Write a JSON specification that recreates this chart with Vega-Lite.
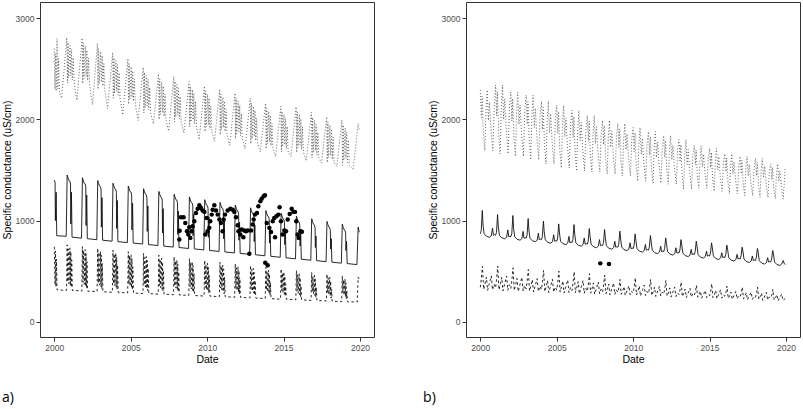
{
"$schema":"https://vega.github.io/schema/vega-lite/v6.json",
"background":"white",
"padding":{"left":1,"top":1,"right":2,"bottom":2},
"spacing":47,
"config":{
"view":{"stroke":"#333333","strokeWidth":1},
"axis":{"grid":false,"domain":false,"tickColor":"#333333","tickSize":4,"labelPadding":2,"labelColor":"#4d4d4d","labelFont":"Liberation Sans","labelFontSize":8.5,"titleFont":"Liberation Sans","titleFontSize":10.5,"titleFontWeight":"normal","titleColor":"black","titlePadding":3},
"title":{"font":"Open Sans","fontSize":14,"fontWeight":"normal","color":"black","orient":"bottom","anchor":"start","frame":"bounds","offset":26}
},
"datasets":{
"as":[{"t":2000.00,"v":1400},{"t":2000.05,"v":1380},{"t":2000.07,"v":1000},{"t":2000.12,"v":1280},{"t":2000.16,"v":850},{"t":2000.78,"v":845},{"t":2000.84,"v":1450},{"t":2000.90,"v":1420},{"t":2000.96,"v":1395},
{"t":2001.02,"v":1390},{"t":2001.06,"v":1360},{"t":2001.08,"v":966},{"t":2001.12,"v":1280},{"t":2001.16,"v":836},{"t":2001.78,"v":826},{"t":2001.84,"v":1423},{"t":2001.90,"v":1393},{"t":2001.96,"v":1368},
{"t":2002.02,"v":1363},{"t":2002.06,"v":1333},{"t":2002.08,"v":951},{"t":2002.12,"v":1253},{"t":2002.16,"v":821},{"t":2002.78,"v":811},{"t":2002.84,"v":1396},{"t":2002.90,"v":1366},{"t":2002.96,"v":1341},
{"t":2003.02,"v":1336},{"t":2003.06,"v":1306},{"t":2003.08,"v":936},{"t":2003.12,"v":1226},{"t":2003.16,"v":806},{"t":2003.78,"v":796},{"t":2003.84,"v":1369},{"t":2003.90,"v":1339},{"t":2003.96,"v":1314},
{"t":2004.02,"v":1309},{"t":2004.06,"v":1279},{"t":2004.08,"v":922},{"t":2004.12,"v":1199},{"t":2004.16,"v":792},{"t":2004.78,"v":782},{"t":2004.84,"v":1342},{"t":2004.90,"v":1312},{"t":2004.96,"v":1287},
{"t":2005.02,"v":1282},{"t":2005.06,"v":1252},{"t":2005.08,"v":908},{"t":2005.12,"v":1172},{"t":2005.16,"v":778},{"t":2005.78,"v":768},{"t":2005.84,"v":1315},{"t":2005.90,"v":1285},{"t":2005.96,"v":1260},
{"t":2006.02,"v":1255},{"t":2006.06,"v":1225},{"t":2006.08,"v":893},{"t":2006.12,"v":1145},{"t":2006.16,"v":763},{"t":2006.78,"v":753},{"t":2006.84,"v":1288},{"t":2006.90,"v":1258},{"t":2006.96,"v":1233},
{"t":2007.02,"v":1228},{"t":2007.06,"v":1198},{"t":2007.08,"v":878},{"t":2007.12,"v":1118},{"t":2007.16,"v":748},{"t":2007.78,"v":738},{"t":2007.84,"v":1261},{"t":2007.90,"v":1231},{"t":2007.96,"v":1206},
{"t":2008.02,"v":1201},{"t":2008.06,"v":1171},{"t":2008.08,"v":864},{"t":2008.12,"v":1091},{"t":2008.16,"v":734},{"t":2008.78,"v":724},{"t":2008.84,"v":1234},{"t":2008.90,"v":1204},{"t":2008.96,"v":1179},
{"t":2009.02,"v":1174},{"t":2009.06,"v":1144},{"t":2009.08,"v":850},{"t":2009.12,"v":1064},{"t":2009.16,"v":720},{"t":2009.78,"v":710},{"t":2009.84,"v":1207},{"t":2009.90,"v":1177},{"t":2009.96,"v":1152},
{"t":2010.02,"v":1147},{"t":2010.06,"v":1117},{"t":2010.08,"v":835},{"t":2010.12,"v":1037},{"t":2010.16,"v":705},{"t":2010.78,"v":695},{"t":2010.84,"v":1180},{"t":2010.90,"v":1150},{"t":2010.96,"v":1125},
{"t":2011.02,"v":1120},{"t":2011.06,"v":1090},{"t":2011.08,"v":820},{"t":2011.12,"v":1010},{"t":2011.16,"v":690},{"t":2011.78,"v":680},{"t":2011.84,"v":1153},{"t":2011.90,"v":1123},{"t":2011.96,"v":1098},
{"t":2012.02,"v":1093},{"t":2012.06,"v":1063},{"t":2012.08,"v":806},{"t":2012.12,"v":983},{"t":2012.16,"v":676},{"t":2012.78,"v":666},{"t":2012.84,"v":1126},{"t":2012.90,"v":1096},{"t":2012.96,"v":1071},
{"t":2013.02,"v":1066},{"t":2013.06,"v":1036},{"t":2013.08,"v":792},{"t":2013.12,"v":956},{"t":2013.16,"v":662},{"t":2013.78,"v":652},{"t":2013.84,"v":1099},{"t":2013.90,"v":1069},{"t":2013.96,"v":1044},
{"t":2014.02,"v":1039},{"t":2014.06,"v":1009},{"t":2014.08,"v":777},{"t":2014.12,"v":929},{"t":2014.16,"v":647},{"t":2014.78,"v":637},{"t":2014.84,"v":1072},{"t":2014.90,"v":1042},{"t":2014.96,"v":1017},
{"t":2015.02,"v":1012},{"t":2015.06,"v":982},{"t":2015.08,"v":762},{"t":2015.12,"v":902},{"t":2015.16,"v":632},{"t":2015.78,"v":622},{"t":2015.84,"v":1045},{"t":2015.90,"v":1015},{"t":2015.96,"v":990},
{"t":2016.02,"v":985},{"t":2016.06,"v":955},{"t":2016.08,"v":748},{"t":2016.12,"v":875},{"t":2016.16,"v":618},{"t":2016.78,"v":608},{"t":2016.84,"v":1018},{"t":2016.90,"v":988},{"t":2016.96,"v":963},
{"t":2017.02,"v":958},{"t":2017.06,"v":928},{"t":2017.08,"v":734},{"t":2017.12,"v":848},{"t":2017.16,"v":604},{"t":2017.78,"v":594},{"t":2017.84,"v":991},{"t":2017.90,"v":961},{"t":2017.96,"v":936},
{"t":2018.02,"v":931},{"t":2018.06,"v":901},{"t":2018.08,"v":719},{"t":2018.12,"v":821},{"t":2018.16,"v":589},{"t":2018.78,"v":579},{"t":2018.84,"v":964},{"t":2018.90,"v":934},{"t":2018.96,"v":909},
{"t":2019.02,"v":904},{"t":2019.06,"v":874},{"t":2019.08,"v":705},{"t":2019.12,"v":794},{"t":2019.16,"v":575},{"t":2019.80,"v":565},{"t":2019.88,"v":935},{"t":2019.95,"v":885}],
"ad":[{"t":2000.00,"v":740},{"t":2000.05,"v":365},{"t":2000.08,"v":700},{"t":2000.11,"v":345},{"t":2000.14,"v":620},{"t":2000.18,"v":315},{"t":2000.80,"v":310},{"t":2000.84,"v":760},{"t":2000.88,"v":395},{"t":2000.92,"v":720},{"t":2000.96,"v":375},
{"t":2001.02,"v":730},{"t":2001.05,"v":359},{"t":2001.08,"v":690},{"t":2001.11,"v":339},{"t":2001.14,"v":610},{"t":2001.18,"v":309},{"t":2001.80,"v":304},{"t":2001.84,"v":743},{"t":2001.88,"v":389},{"t":2001.92,"v":703},{"t":2001.96,"v":369},
{"t":2002.02,"v":713},{"t":2002.05,"v":353},{"t":2002.08,"v":673},{"t":2002.11,"v":333},{"t":2002.14,"v":593},{"t":2002.18,"v":303},{"t":2002.80,"v":298},{"t":2002.84,"v":726},{"t":2002.88,"v":383},{"t":2002.92,"v":686},{"t":2002.96,"v":363},
{"t":2003.02,"v":696},{"t":2003.05,"v":346},{"t":2003.08,"v":656},{"t":2003.11,"v":326},{"t":2003.14,"v":576},{"t":2003.18,"v":296},{"t":2003.80,"v":291},{"t":2003.84,"v":709},{"t":2003.88,"v":376},{"t":2003.92,"v":669},{"t":2003.96,"v":356},
{"t":2004.02,"v":679},{"t":2004.05,"v":340},{"t":2004.08,"v":639},{"t":2004.11,"v":320},{"t":2004.14,"v":559},{"t":2004.18,"v":290},{"t":2004.80,"v":285},{"t":2004.84,"v":692},{"t":2004.88,"v":370},{"t":2004.92,"v":652},{"t":2004.96,"v":350},
{"t":2005.02,"v":662},{"t":2005.05,"v":334},{"t":2005.08,"v":622},{"t":2005.11,"v":314},{"t":2005.14,"v":542},{"t":2005.18,"v":284},{"t":2005.80,"v":279},{"t":2005.84,"v":675},{"t":2005.88,"v":364},{"t":2005.92,"v":635},{"t":2005.96,"v":344},
{"t":2006.02,"v":645},{"t":2006.05,"v":328},{"t":2006.08,"v":605},{"t":2006.11,"v":308},{"t":2006.14,"v":525},{"t":2006.18,"v":278},{"t":2006.80,"v":273},{"t":2006.84,"v":658},{"t":2006.88,"v":358},{"t":2006.92,"v":618},{"t":2006.96,"v":338},
{"t":2007.02,"v":628},{"t":2007.05,"v":322},{"t":2007.08,"v":588},{"t":2007.11,"v":302},{"t":2007.14,"v":508},{"t":2007.18,"v":272},{"t":2007.80,"v":267},{"t":2007.84,"v":641},{"t":2007.88,"v":352},{"t":2007.92,"v":601},{"t":2007.96,"v":332},
{"t":2008.02,"v":611},{"t":2008.05,"v":315},{"t":2008.08,"v":571},{"t":2008.11,"v":295},{"t":2008.14,"v":491},{"t":2008.18,"v":265},{"t":2008.80,"v":260},{"t":2008.84,"v":624},{"t":2008.88,"v":345},{"t":2008.92,"v":584},{"t":2008.96,"v":325},
{"t":2009.02,"v":594},{"t":2009.05,"v":309},{"t":2009.08,"v":554},{"t":2009.11,"v":289},{"t":2009.14,"v":474},{"t":2009.18,"v":259},{"t":2009.80,"v":254},{"t":2009.84,"v":607},{"t":2009.88,"v":339},{"t":2009.92,"v":567},{"t":2009.96,"v":319},
{"t":2010.02,"v":577},{"t":2010.05,"v":303},{"t":2010.08,"v":537},{"t":2010.11,"v":283},{"t":2010.14,"v":457},{"t":2010.18,"v":253},{"t":2010.80,"v":248},{"t":2010.84,"v":590},{"t":2010.88,"v":333},{"t":2010.92,"v":550},{"t":2010.96,"v":313},
{"t":2011.02,"v":560},{"t":2011.05,"v":297},{"t":2011.08,"v":520},{"t":2011.11,"v":277},{"t":2011.14,"v":440},{"t":2011.18,"v":247},{"t":2011.80,"v":242},{"t":2011.84,"v":573},{"t":2011.88,"v":327},{"t":2011.92,"v":533},{"t":2011.96,"v":307},
{"t":2012.02,"v":543},{"t":2012.05,"v":291},{"t":2012.08,"v":503},{"t":2012.11,"v":271},{"t":2012.14,"v":423},{"t":2012.18,"v":241},{"t":2012.80,"v":236},{"t":2012.84,"v":556},{"t":2012.88,"v":321},{"t":2012.92,"v":516},{"t":2012.96,"v":301},
{"t":2013.02,"v":526},{"t":2013.05,"v":284},{"t":2013.08,"v":486},{"t":2013.11,"v":264},{"t":2013.14,"v":406},{"t":2013.18,"v":234},{"t":2013.80,"v":229},{"t":2013.84,"v":539},{"t":2013.88,"v":314},{"t":2013.92,"v":499},{"t":2013.96,"v":294},
{"t":2014.02,"v":509},{"t":2014.05,"v":278},{"t":2014.08,"v":469},{"t":2014.11,"v":258},{"t":2014.14,"v":389},{"t":2014.18,"v":228},{"t":2014.80,"v":223},{"t":2014.84,"v":522},{"t":2014.88,"v":308},{"t":2014.92,"v":482},{"t":2014.96,"v":288},
{"t":2015.02,"v":492},{"t":2015.05,"v":272},{"t":2015.08,"v":452},{"t":2015.11,"v":252},{"t":2015.14,"v":372},{"t":2015.18,"v":222},{"t":2015.80,"v":217},{"t":2015.84,"v":505},{"t":2015.88,"v":302},{"t":2015.92,"v":465},{"t":2015.96,"v":282},
{"t":2016.02,"v":475},{"t":2016.05,"v":266},{"t":2016.08,"v":435},{"t":2016.11,"v":246},{"t":2016.14,"v":355},{"t":2016.18,"v":216},{"t":2016.80,"v":211},{"t":2016.84,"v":488},{"t":2016.88,"v":296},{"t":2016.92,"v":448},{"t":2016.96,"v":276},
{"t":2017.02,"v":458},{"t":2017.05,"v":260},{"t":2017.08,"v":418},{"t":2017.11,"v":240},{"t":2017.14,"v":338},{"t":2017.18,"v":210},{"t":2017.80,"v":205},{"t":2017.84,"v":471},{"t":2017.88,"v":290},{"t":2017.92,"v":431},{"t":2017.96,"v":270},
{"t":2018.02,"v":441},{"t":2018.05,"v":253},{"t":2018.08,"v":401},{"t":2018.11,"v":233},{"t":2018.14,"v":321},{"t":2018.18,"v":203},{"t":2018.80,"v":198},{"t":2018.84,"v":454},{"t":2018.88,"v":283},{"t":2018.92,"v":414},{"t":2018.96,"v":263},
{"t":2019.02,"v":424},{"t":2019.05,"v":247},{"t":2019.08,"v":384},{"t":2019.11,"v":227},{"t":2019.14,"v":304},{"t":2019.18,"v":197},{"t":2019.82,"v":195},{"t":2019.88,"v":440},{"t":2019.95,"v":420}],
"ao":[{"t":2000.00,"v":2700},{"t":2000.04,"v":2300},{"t":2000.08,"v":2650},{"t":2000.12,"v":2280},{"t":2000.18,"v":2800},{"t":2000.23,"v":2300},{"t":2000.28,"v":2600},{"t":2000.34,"v":2260},{"t":2000.48,"v":2210},{"t":2000.82,"v":2810},{"t":2000.86,"v":2360},{"t":2000.90,"v":2760},{"t":2000.94,"v":2410},
{"t":2001.03,"v":2730},{"t":2001.08,"v":2430},{"t":2001.13,"v":2690},{"t":2001.18,"v":2390},{"t":2001.24,"v":2610},{"t":2001.30,"v":2360},{"t":2001.48,"v":2190},{"t":2001.82,"v":2805},{"t":2001.86,"v":2355},{"t":2001.90,"v":2755},{"t":2001.94,"v":2405},
{"t":2002.03,"v":2725},{"t":2002.08,"v":2425},{"t":2002.13,"v":2685},{"t":2002.18,"v":2385},{"t":2002.24,"v":2605},{"t":2002.30,"v":2355},{"t":2002.50,"v":2145},{"t":2002.82,"v":2750},{"t":2002.86,"v":2300},{"t":2002.90,"v":2700},{"t":2002.94,"v":2350},
{"t":2003.03,"v":2670},{"t":2003.08,"v":2370},{"t":2003.13,"v":2630},{"t":2003.18,"v":2330},{"t":2003.24,"v":2550},{"t":2003.30,"v":2300},{"t":2003.48,"v":2105},{"t":2003.82,"v":2660},{"t":2003.86,"v":2210},{"t":2003.90,"v":2610},{"t":2003.94,"v":2260},
{"t":2004.03,"v":2580},{"t":2004.08,"v":2280},{"t":2004.13,"v":2540},{"t":2004.18,"v":2240},{"t":2004.24,"v":2460},{"t":2004.30,"v":2210},{"t":2004.48,"v":2045},{"t":2004.82,"v":2600},{"t":2004.86,"v":2150},{"t":2004.90,"v":2550},{"t":2004.94,"v":2200},
{"t":2005.03,"v":2520},{"t":2005.08,"v":2220},{"t":2005.13,"v":2480},{"t":2005.18,"v":2180},{"t":2005.24,"v":2400},{"t":2005.30,"v":2150},{"t":2005.48,"v":1990},{"t":2005.82,"v":2515},{"t":2005.86,"v":2065},{"t":2005.90,"v":2465},{"t":2005.94,"v":2115},
{"t":2006.03,"v":2435},{"t":2006.08,"v":2135},{"t":2006.13,"v":2395},{"t":2006.18,"v":2095},{"t":2006.24,"v":2315},{"t":2006.30,"v":2065},{"t":2006.48,"v":1955},{"t":2006.82,"v":2450},{"t":2006.86,"v":2000},{"t":2006.90,"v":2400},{"t":2006.94,"v":2050},
{"t":2007.03,"v":2370},{"t":2007.08,"v":2070},{"t":2007.13,"v":2330},{"t":2007.18,"v":2030},{"t":2007.24,"v":2250},{"t":2007.30,"v":2000},{"t":2007.48,"v":1885},{"t":2007.82,"v":2425},{"t":2007.86,"v":1975},{"t":2007.90,"v":2375},{"t":2007.94,"v":2025},
{"t":2008.03,"v":2345},{"t":2008.08,"v":2045},{"t":2008.13,"v":2305},{"t":2008.18,"v":2005},{"t":2008.24,"v":2225},{"t":2008.30,"v":1975},{"t":2008.48,"v":1865},{"t":2008.82,"v":2375},{"t":2008.86,"v":1925},{"t":2008.90,"v":2325},{"t":2008.94,"v":1975},
{"t":2009.03,"v":2295},{"t":2009.08,"v":1995},{"t":2009.13,"v":2255},{"t":2009.18,"v":1955},{"t":2009.24,"v":2175},{"t":2009.30,"v":1925},{"t":2009.48,"v":1800},{"t":2009.82,"v":2330},{"t":2009.86,"v":1880},{"t":2009.90,"v":2280},{"t":2009.94,"v":1930},
{"t":2010.03,"v":2250},{"t":2010.08,"v":1950},{"t":2010.13,"v":2210},{"t":2010.18,"v":1910},{"t":2010.24,"v":2130},{"t":2010.30,"v":1880},{"t":2010.48,"v":1785},{"t":2010.82,"v":2300},{"t":2010.86,"v":1850},{"t":2010.90,"v":2250},{"t":2010.94,"v":1900},
{"t":2011.03,"v":2220},{"t":2011.08,"v":1920},{"t":2011.13,"v":2180},{"t":2011.18,"v":1880},{"t":2011.24,"v":2100},{"t":2011.30,"v":1850},{"t":2011.48,"v":1745},{"t":2011.82,"v":2260},{"t":2011.86,"v":1810},{"t":2011.90,"v":2210},{"t":2011.94,"v":1860},
{"t":2012.03,"v":2180},{"t":2012.08,"v":1880},{"t":2012.13,"v":2140},{"t":2012.18,"v":1840},{"t":2012.24,"v":2060},{"t":2012.30,"v":1810},{"t":2012.48,"v":1710},{"t":2012.82,"v":2210},{"t":2012.86,"v":1760},{"t":2012.90,"v":2160},{"t":2012.94,"v":1810},
{"t":2013.03,"v":2130},{"t":2013.08,"v":1830},{"t":2013.13,"v":2090},{"t":2013.18,"v":1790},{"t":2013.24,"v":2010},{"t":2013.30,"v":1760},{"t":2013.48,"v":1680},{"t":2013.82,"v":2160},{"t":2013.86,"v":1710},{"t":2013.90,"v":2110},{"t":2013.94,"v":1760},
{"t":2014.03,"v":2080},{"t":2014.08,"v":1780},{"t":2014.13,"v":2040},{"t":2014.18,"v":1740},{"t":2014.24,"v":1960},{"t":2014.30,"v":1710},{"t":2014.48,"v":1635},{"t":2014.82,"v":2130},{"t":2014.86,"v":1680},{"t":2014.90,"v":2080},{"t":2014.94,"v":1730},
{"t":2015.03,"v":2050},{"t":2015.08,"v":1750},{"t":2015.13,"v":2010},{"t":2015.18,"v":1710},{"t":2015.24,"v":1930},{"t":2015.30,"v":1680},{"t":2015.48,"v":1635},{"t":2015.82,"v":2125},{"t":2015.86,"v":1675},{"t":2015.90,"v":2075},{"t":2015.94,"v":1725},
{"t":2016.03,"v":2045},{"t":2016.08,"v":1745},{"t":2016.13,"v":2005},{"t":2016.18,"v":1705},{"t":2016.24,"v":1925},{"t":2016.30,"v":1675},{"t":2016.48,"v":1590},{"t":2016.82,"v":2070},{"t":2016.86,"v":1620},{"t":2016.90,"v":2020},{"t":2016.94,"v":1670},
{"t":2017.03,"v":1990},{"t":2017.08,"v":1690},{"t":2017.13,"v":1950},{"t":2017.18,"v":1650},{"t":2017.24,"v":1870},{"t":2017.30,"v":1620},{"t":2017.48,"v":1570},{"t":2017.82,"v":2025},{"t":2017.86,"v":1575},{"t":2017.90,"v":1975},{"t":2017.94,"v":1625},
{"t":2018.03,"v":1945},{"t":2018.08,"v":1645},{"t":2018.13,"v":1905},{"t":2018.18,"v":1605},{"t":2018.24,"v":1825},{"t":2018.30,"v":1575},{"t":2018.48,"v":1535},{"t":2018.82,"v":1995},{"t":2018.86,"v":1545},{"t":2018.90,"v":1945},{"t":2018.94,"v":1595},
{"t":2019.03,"v":1915},{"t":2019.08,"v":1615},{"t":2019.13,"v":1875},{"t":2019.18,"v":1575},{"t":2019.24,"v":1795},{"t":2019.30,"v":1545},{"t":2019.55,"v":1505},{"t":2019.88,"v":1960},{"t":2019.95,"v":1900}],
"ap":[{"t":2008.18,"v":812},{"t":2008.20,"v":900},{"t":2008.29,"v":1033},{"t":2008.46,"v":1033},{"t":2008.57,"v":977},{"t":2008.68,"v":895},{"t":2008.77,"v":862},{"t":2008.83,"v":934},{"t":2008.90,"v":829},{"t":2008.97,"v":895},{"t":2009.05,"v":944},{"t":2009.16,"v":993},{"t":2009.27,"v":1076},{"t":2009.38,"v":1118},{"t":2009.49,"v":1151},{"t":2009.60,"v":1125},{"t":2009.70,"v":1099},{"t":2009.82,"v":1086},{"t":2009.88,"v":862},{"t":2009.97,"v":1026},{"t":2010.03,"v":895},{"t":2010.14,"v":928},{"t":2010.20,"v":993},{"t":2010.30,"v":1059},{"t":2010.36,"v":1108},{"t":2010.47,"v":1151},{"t":2010.58,"v":1099},{"t":2010.69,"v":1059},{"t":2010.80,"v":1010},{"t":2010.90,"v":977},{"t":2011.01,"v":895},{"t":2011.08,"v":1010},{"t":2011.17,"v":1059},{"t":2011.34,"v":1099},{"t":2011.52,"v":1118},{"t":2011.67,"v":1108},{"t":2011.78,"v":1086},{"t":2011.89,"v":1033},{"t":2012.00,"v":954},{"t":2012.05,"v":895},{"t":2012.17,"v":862},{"t":2012.26,"v":911},{"t":2012.37,"v":836},{"t":2012.43,"v":901},{"t":2012.54,"v":895},{"t":2012.65,"v":901},{"t":2012.76,"v":671},{"t":2012.87,"v":901},{"t":2012.98,"v":961},{"t":2013.04,"v":1010},{"t":2013.13,"v":1059},{"t":2013.26,"v":1076},{"t":2013.35,"v":1141},{"t":2013.48,"v":1191},{"t":2013.57,"v":1217},{"t":2013.70,"v":1240},{"t":2013.78,"v":1250},{"t":2013.80,"v":582},{"t":2013.96,"v":559},{"t":2013.90,"v":977},{"t":2014.07,"v":928},{"t":2014.18,"v":888},{"t":2014.29,"v":993},{"t":2014.39,"v":1026},{"t":2014.44,"v":836},{"t":2014.53,"v":1043},{"t":2014.66,"v":1059},{"t":2014.74,"v":1131},{"t":2014.83,"v":993},{"t":2014.94,"v":862},{"t":2015.05,"v":901},{"t":2015.16,"v":895},{"t":2015.27,"v":1010},{"t":2015.40,"v":1066},{"t":2015.53,"v":1118},{"t":2015.64,"v":1086},{"t":2015.75,"v":1086},{"t":2015.83,"v":993},{"t":2015.92,"v":862},{"t":2015.99,"v":829},{"t":2016.10,"v":895},{"t":2016.20,"v":890}],
"bs":[{"t":2000.00,"v":870},{"t":2000.06,"v":900},{"t":2000.13,"v":1100},{"t":2000.18,"v":950},{"t":2000.25,"v":870},{"t":2000.40,"v":845},{"t":2000.60,"v":835},{"t":2000.72,"v":850},{"t":2000.80,"v":925},{"t":2000.86,"v":855},{"t":2000.94,"v":860},
{"t":2001.00,"v":855},{"t":2001.06,"v":885},{"t":2001.13,"v":1060},{"t":2001.18,"v":935},{"t":2001.25,"v":855},{"t":2001.40,"v":830},{"t":2001.60,"v":820},{"t":2001.72,"v":835},{"t":2001.80,"v":908},{"t":2001.86,"v":840},{"t":2001.94,"v":845},
{"t":2002.00,"v":841},{"t":2002.06,"v":871},{"t":2002.13,"v":1050},{"t":2002.18,"v":921},{"t":2002.25,"v":841},{"t":2002.40,"v":816},{"t":2002.60,"v":806},{"t":2002.72,"v":821},{"t":2002.80,"v":893},{"t":2002.86,"v":826},{"t":2002.94,"v":831},
{"t":2003.00,"v":826},{"t":2003.06,"v":856},{"t":2003.13,"v":1020},{"t":2003.18,"v":906},{"t":2003.25,"v":826},{"t":2003.40,"v":801},{"t":2003.60,"v":791},{"t":2003.72,"v":806},{"t":2003.80,"v":876},{"t":2003.86,"v":811},{"t":2003.94,"v":816},
{"t":2004.00,"v":811},{"t":2004.06,"v":841},{"t":2004.13,"v":995},{"t":2004.18,"v":891},{"t":2004.25,"v":811},{"t":2004.40,"v":786},{"t":2004.60,"v":776},{"t":2004.72,"v":791},{"t":2004.80,"v":860},{"t":2004.86,"v":796},{"t":2004.94,"v":801},
{"t":2005.00,"v":797},{"t":2005.06,"v":827},{"t":2005.13,"v":967},{"t":2005.18,"v":877},{"t":2005.25,"v":797},{"t":2005.40,"v":772},{"t":2005.60,"v":762},{"t":2005.72,"v":777},{"t":2005.80,"v":844},{"t":2005.86,"v":782},{"t":2005.94,"v":787},
{"t":2006.00,"v":782},{"t":2006.06,"v":812},{"t":2006.13,"v":960},{"t":2006.18,"v":862},{"t":2006.25,"v":782},{"t":2006.40,"v":757},{"t":2006.60,"v":747},{"t":2006.72,"v":762},{"t":2006.80,"v":828},{"t":2006.86,"v":767},{"t":2006.94,"v":772},
{"t":2007.00,"v":767},{"t":2007.06,"v":797},{"t":2007.13,"v":921},{"t":2007.18,"v":847},{"t":2007.25,"v":767},{"t":2007.40,"v":742},{"t":2007.60,"v":732},{"t":2007.72,"v":747},{"t":2007.80,"v":812},{"t":2007.86,"v":752},{"t":2007.94,"v":757},
{"t":2008.00,"v":752},{"t":2008.06,"v":782},{"t":2008.13,"v":911},{"t":2008.18,"v":832},{"t":2008.25,"v":752},{"t":2008.40,"v":727},{"t":2008.60,"v":717},{"t":2008.72,"v":732},{"t":2008.80,"v":795},{"t":2008.86,"v":737},{"t":2008.94,"v":742},
{"t":2009.00,"v":738},{"t":2009.06,"v":768},{"t":2009.13,"v":895},{"t":2009.18,"v":818},{"t":2009.25,"v":738},{"t":2009.40,"v":713},{"t":2009.60,"v":703},{"t":2009.72,"v":718},{"t":2009.80,"v":780},{"t":2009.86,"v":723},{"t":2009.94,"v":728},
{"t":2010.00,"v":723},{"t":2010.06,"v":753},{"t":2010.13,"v":868},{"t":2010.18,"v":803},{"t":2010.25,"v":723},{"t":2010.40,"v":698},{"t":2010.60,"v":688},{"t":2010.72,"v":703},{"t":2010.80,"v":763},{"t":2010.86,"v":708},{"t":2010.94,"v":713},
{"t":2011.00,"v":708},{"t":2011.06,"v":738},{"t":2011.13,"v":852},{"t":2011.18,"v":788},{"t":2011.25,"v":708},{"t":2011.40,"v":683},{"t":2011.60,"v":673},{"t":2011.72,"v":688},{"t":2011.80,"v":747},{"t":2011.86,"v":693},{"t":2011.94,"v":698},
{"t":2012.00,"v":694},{"t":2012.06,"v":724},{"t":2012.13,"v":829},{"t":2012.18,"v":774},{"t":2012.25,"v":694},{"t":2012.40,"v":669},{"t":2012.60,"v":659},{"t":2012.72,"v":674},{"t":2012.80,"v":731},{"t":2012.86,"v":679},{"t":2012.94,"v":684},
{"t":2013.00,"v":679},{"t":2013.06,"v":709},{"t":2013.13,"v":812},{"t":2013.18,"v":759},{"t":2013.25,"v":679},{"t":2013.40,"v":654},{"t":2013.60,"v":644},{"t":2013.72,"v":659},{"t":2013.80,"v":715},{"t":2013.86,"v":664},{"t":2013.94,"v":669},
{"t":2014.00,"v":664},{"t":2014.06,"v":694},{"t":2014.13,"v":796},{"t":2014.18,"v":744},{"t":2014.25,"v":664},{"t":2014.40,"v":639},{"t":2014.60,"v":629},{"t":2014.72,"v":644},{"t":2014.80,"v":698},{"t":2014.86,"v":649},{"t":2014.94,"v":654},
{"t":2015.00,"v":650},{"t":2015.06,"v":680},{"t":2015.13,"v":780},{"t":2015.18,"v":730},{"t":2015.25,"v":650},{"t":2015.40,"v":625},{"t":2015.60,"v":615},{"t":2015.72,"v":630},{"t":2015.80,"v":682},{"t":2015.86,"v":635},{"t":2015.94,"v":640},
{"t":2016.00,"v":635},{"t":2016.06,"v":665},{"t":2016.13,"v":757},{"t":2016.18,"v":715},{"t":2016.25,"v":635},{"t":2016.40,"v":610},{"t":2016.60,"v":600},{"t":2016.72,"v":615},{"t":2016.80,"v":666},{"t":2016.86,"v":620},{"t":2016.94,"v":625},
{"t":2017.00,"v":620},{"t":2017.06,"v":650},{"t":2017.13,"v":737},{"t":2017.18,"v":700},{"t":2017.25,"v":620},{"t":2017.40,"v":595},{"t":2017.60,"v":585},{"t":2017.72,"v":600},{"t":2017.80,"v":650},{"t":2017.86,"v":605},{"t":2017.94,"v":610},
{"t":2018.00,"v":605},{"t":2018.06,"v":635},{"t":2018.13,"v":724},{"t":2018.18,"v":685},{"t":2018.25,"v":605},{"t":2018.40,"v":580},{"t":2018.60,"v":570},{"t":2018.72,"v":585},{"t":2018.80,"v":633},{"t":2018.86,"v":590},{"t":2018.94,"v":595},
{"t":2019.00,"v":591},{"t":2019.06,"v":621},{"t":2019.13,"v":704},{"t":2019.18,"v":671},{"t":2019.25,"v":591},{"t":2019.40,"v":566},{"t":2019.60,"v":556},{"t":2019.72,"v":571},{"t":2019.82,"v":605},{"t":2019.88,"v":578},{"t":2019.95,"v":565}],
"bd":[{"t":2000.00,"v":340},{"t":2000.07,"v":430},{"t":2000.14,"v":549},{"t":2000.22,"v":320},{"t":2000.32,"v":382},{"t":2000.40,"v":441},{"t":2000.48,"v":310},{"t":2000.62,"v":394},{"t":2000.72,"v":453},{"t":2000.80,"v":315},{"t":2000.90,"v":370},
{"t":2001.00,"v":335},{"t":2001.07,"v":427},{"t":2001.14,"v":549},{"t":2001.22,"v":315},{"t":2001.32,"v":378},{"t":2001.40,"v":439},{"t":2001.48,"v":305},{"t":2001.62,"v":390},{"t":2001.72,"v":451},{"t":2001.80,"v":310},{"t":2001.90,"v":366},
{"t":2002.00,"v":329},{"t":2002.07,"v":416},{"t":2002.14,"v":533},{"t":2002.22,"v":309},{"t":2002.32,"v":369},{"t":2002.40,"v":428},{"t":2002.48,"v":299},{"t":2002.62,"v":381},{"t":2002.72,"v":439},{"t":2002.80,"v":304},{"t":2002.90,"v":358},
{"t":2003.00,"v":324},{"t":2003.07,"v":405},{"t":2003.14,"v":516},{"t":2003.22,"v":304},{"t":2003.32,"v":361},{"t":2003.40,"v":416},{"t":2003.48,"v":294},{"t":2003.62,"v":372},{"t":2003.72,"v":427},{"t":2003.80,"v":299},{"t":2003.90,"v":350},
{"t":2004.00,"v":318},{"t":2004.07,"v":398},{"t":2004.14,"v":507},{"t":2004.22,"v":298},{"t":2004.32,"v":354},{"t":2004.40,"v":408},{"t":2004.48,"v":288},{"t":2004.62,"v":365},{"t":2004.72,"v":419},{"t":2004.80,"v":293},{"t":2004.90,"v":343},
{"t":2005.00,"v":313},{"t":2005.07,"v":392},{"t":2005.14,"v":500},{"t":2005.22,"v":293},{"t":2005.32,"v":348},{"t":2005.40,"v":402},{"t":2005.48,"v":283},{"t":2005.62,"v":359},{"t":2005.72,"v":413},{"t":2005.80,"v":288},{"t":2005.90,"v":337},
{"t":2006.00,"v":307},{"t":2006.07,"v":385},{"t":2006.14,"v":493},{"t":2006.22,"v":287},{"t":2006.32,"v":342},{"t":2006.40,"v":396},{"t":2006.48,"v":277},{"t":2006.62,"v":353},{"t":2006.72,"v":407},{"t":2006.80,"v":282},{"t":2006.90,"v":331},
{"t":2007.00,"v":302},{"t":2007.07,"v":373},{"t":2007.14,"v":474},{"t":2007.22,"v":282},{"t":2007.32,"v":333},{"t":2007.40,"v":383},{"t":2007.48,"v":272},{"t":2007.62,"v":343},{"t":2007.72,"v":393},{"t":2007.80,"v":277},{"t":2007.90,"v":323},
{"t":2008.00,"v":296},{"t":2008.07,"v":363},{"t":2008.14,"v":460},{"t":2008.22,"v":276},{"t":2008.32,"v":324},{"t":2008.40,"v":373},{"t":2008.48,"v":266},{"t":2008.62,"v":334},{"t":2008.72,"v":382},{"t":2008.80,"v":271},{"t":2008.90,"v":315},
{"t":2009.00,"v":291},{"t":2009.07,"v":340},{"t":2009.14,"v":418},{"t":2009.22,"v":271},{"t":2009.32,"v":308},{"t":2009.40,"v":347},{"t":2009.48,"v":261},{"t":2009.62,"v":316},{"t":2009.72,"v":355},{"t":2009.80,"v":266},{"t":2009.90,"v":300},
{"t":2010.00,"v":285},{"t":2010.07,"v":345},{"t":2010.14,"v":434},{"t":2010.22,"v":265},{"t":2010.32,"v":309},{"t":2010.40,"v":353},{"t":2010.48,"v":255},{"t":2010.62,"v":318},{"t":2010.72,"v":362},{"t":2010.80,"v":260},{"t":2010.90,"v":300},
{"t":2011.00,"v":280},{"t":2011.07,"v":334},{"t":2011.14,"v":418},{"t":2011.22,"v":260},{"t":2011.32,"v":300},{"t":2011.40,"v":342},{"t":2011.48,"v":250},{"t":2011.62,"v":309},{"t":2011.72,"v":351},{"t":2011.80,"v":255},{"t":2011.90,"v":292},
{"t":2012.00,"v":274},{"t":2012.07,"v":326},{"t":2012.14,"v":408},{"t":2012.22,"v":254},{"t":2012.32,"v":293},{"t":2012.40,"v":334},{"t":2012.48,"v":244},{"t":2012.62,"v":301},{"t":2012.72,"v":342},{"t":2012.80,"v":249},{"t":2012.90,"v":285},
{"t":2013.00,"v":269},{"t":2013.07,"v":315},{"t":2013.14,"v":391},{"t":2013.22,"v":249},{"t":2013.32,"v":285},{"t":2013.40,"v":323},{"t":2013.48,"v":239},{"t":2013.62,"v":292},{"t":2013.72,"v":330},{"t":2013.80,"v":244},{"t":2013.90,"v":277},
{"t":2014.00,"v":263},{"t":2014.07,"v":296},{"t":2014.14,"v":359},{"t":2014.22,"v":243},{"t":2014.32,"v":271},{"t":2014.40,"v":302},{"t":2014.48,"v":233},{"t":2014.62,"v":277},{"t":2014.72,"v":309},{"t":2014.80,"v":238},{"t":2014.90,"v":265},
{"t":2015.00,"v":258},{"t":2015.07,"v":302},{"t":2015.14,"v":375},{"t":2015.22,"v":238},{"t":2015.32,"v":272},{"t":2015.40,"v":309},{"t":2015.48,"v":228},{"t":2015.62,"v":279},{"t":2015.72,"v":316},{"t":2015.80,"v":233},{"t":2015.90,"v":265},
{"t":2016.00,"v":252},{"t":2016.07,"v":287},{"t":2016.14,"v":352},{"t":2016.22,"v":232},{"t":2016.32,"v":261},{"t":2016.40,"v":294},{"t":2016.48,"v":222},{"t":2016.62,"v":268},{"t":2016.72,"v":300},{"t":2016.80,"v":227},{"t":2016.90,"v":255},
{"t":2017.00,"v":247},{"t":2017.07,"v":280},{"t":2017.14,"v":342},{"t":2017.22,"v":227},{"t":2017.32,"v":255},{"t":2017.40,"v":286},{"t":2017.48,"v":217},{"t":2017.62,"v":261},{"t":2017.72,"v":292},{"t":2017.80,"v":222},{"t":2017.90,"v":248},
{"t":2018.00,"v":241},{"t":2018.07,"v":277},{"t":2018.14,"v":342},{"t":2018.22,"v":221},{"t":2018.32,"v":250},{"t":2018.40,"v":283},{"t":2018.48,"v":211},{"t":2018.62,"v":257},{"t":2018.72,"v":290},{"t":2018.80,"v":216},{"t":2018.90,"v":244},
{"t":2019.00,"v":236},{"t":2019.07,"v":263},{"t":2019.14,"v":319},{"t":2019.22,"v":216},{"t":2019.32,"v":240},{"t":2019.40,"v":268},{"t":2019.48,"v":206},{"t":2019.62,"v":246},{"t":2019.72,"v":274},{"t":2019.80,"v":211},{"t":2019.95,"v":230}],
"bo":[{"t":2000.00,"v":2290},{"t":2000.07,"v":2020},{"t":2000.12,"v":2230},{"t":2000.20,"v":1870},{"t":2000.30,"v":1690},{"t":2000.37,"v":2080},{"t":2000.45,"v":2290},{"t":2000.53,"v":1990},{"t":2000.60,"v":2170},{"t":2000.70,"v":1900},{"t":2000.82,"v":1690},{"t":2000.91,"v":2110},
{"t":2001.00,"v":2340},{"t":2001.07,"v":2034},{"t":2001.12,"v":2272},{"t":2001.20,"v":1864},{"t":2001.30,"v":1660},{"t":2001.37,"v":2102},{"t":2001.45,"v":2340},{"t":2001.53,"v":2000},{"t":2001.60,"v":2204},{"t":2001.70,"v":1898},{"t":2001.82,"v":1660},{"t":2001.91,"v":2136},
{"t":2002.00,"v":2270},{"t":2002.07,"v":1984},{"t":2002.12,"v":2206},{"t":2002.20,"v":1825},{"t":2002.30,"v":1635},{"t":2002.37,"v":2048},{"t":2002.45,"v":2270},{"t":2002.53,"v":1952},{"t":2002.60,"v":2143},{"t":2002.70,"v":1857},{"t":2002.82,"v":1635},{"t":2002.91,"v":2079},
{"t":2003.00,"v":2240},{"t":2003.07,"v":1952},{"t":2003.12,"v":2176},{"t":2003.20,"v":1792},{"t":2003.30,"v":1600},{"t":2003.37,"v":2016},{"t":2003.45,"v":2240},{"t":2003.53,"v":1920},{"t":2003.60,"v":2112},{"t":2003.70,"v":1824},{"t":2003.82,"v":1600},{"t":2003.91,"v":2048},
{"t":2004.00,"v":2180},{"t":2004.07,"v":1901},{"t":2004.12,"v":2118},{"t":2004.20,"v":1746},{"t":2004.30,"v":1560},{"t":2004.37,"v":1963},{"t":2004.45,"v":2180},{"t":2004.53,"v":1870},{"t":2004.60,"v":2056},{"t":2004.70,"v":1777},{"t":2004.82,"v":1560},{"t":2004.91,"v":1994},
{"t":2005.00,"v":2140},{"t":2005.07,"v":1861},{"t":2005.12,"v":2078},{"t":2005.20,"v":1706},{"t":2005.30,"v":1520},{"t":2005.37,"v":1923},{"t":2005.45,"v":2140},{"t":2005.53,"v":1830},{"t":2005.60,"v":2016},{"t":2005.70,"v":1737},{"t":2005.82,"v":1520},{"t":2005.91,"v":1954},
{"t":2006.00,"v":2090},{"t":2006.07,"v":1820},{"t":2006.12,"v":2030},{"t":2006.20,"v":1670},{"t":2006.30,"v":1490},{"t":2006.37,"v":1880},{"t":2006.45,"v":2090},{"t":2006.53,"v":1790},{"t":2006.60,"v":1970},{"t":2006.70,"v":1700},{"t":2006.82,"v":1490},{"t":2006.91,"v":1910},
{"t":2007.00,"v":2040},{"t":2007.07,"v":1788},{"t":2007.12,"v":1984},{"t":2007.20,"v":1648},{"t":2007.30,"v":1480},{"t":2007.37,"v":1844},{"t":2007.45,"v":2040},{"t":2007.53,"v":1760},{"t":2007.60,"v":1928},{"t":2007.70,"v":1676},{"t":2007.82,"v":1480},{"t":2007.91,"v":1872},
{"t":2008.00,"v":1990},{"t":2008.07,"v":1751},{"t":2008.12,"v":1937},{"t":2008.20,"v":1619},{"t":2008.30,"v":1460},{"t":2008.37,"v":1804},{"t":2008.45,"v":1990},{"t":2008.53,"v":1725},{"t":2008.60,"v":1884},{"t":2008.70,"v":1645},{"t":2008.82,"v":1460},{"t":2008.91,"v":1831},
{"t":2009.00,"v":1960},{"t":2009.07,"v":1726},{"t":2009.12,"v":1908},{"t":2009.20,"v":1596},{"t":2009.30,"v":1440},{"t":2009.37,"v":1778},{"t":2009.45,"v":1960},{"t":2009.53,"v":1700},{"t":2009.60,"v":1856},{"t":2009.70,"v":1622},{"t":2009.82,"v":1440},{"t":2009.91,"v":1804},
{"t":2010.00,"v":1920},{"t":2010.07,"v":1681},{"t":2010.12,"v":1867},{"t":2010.20,"v":1549},{"t":2010.30,"v":1390},{"t":2010.37,"v":1734},{"t":2010.45,"v":1920},{"t":2010.53,"v":1655},{"t":2010.60,"v":1814},{"t":2010.70,"v":1575},{"t":2010.82,"v":1390},{"t":2010.91,"v":1761},
{"t":2011.00,"v":1880},{"t":2011.07,"v":1650},{"t":2011.12,"v":1829},{"t":2011.20,"v":1523},{"t":2011.30,"v":1370},{"t":2011.37,"v":1701},{"t":2011.45,"v":1880},{"t":2011.53,"v":1625},{"t":2011.60,"v":1778},{"t":2011.70,"v":1548},{"t":2011.82,"v":1370},{"t":2011.91,"v":1727},
{"t":2012.00,"v":1840},{"t":2012.07,"v":1624},{"t":2012.12,"v":1792},{"t":2012.20,"v":1504},{"t":2012.30,"v":1360},{"t":2012.37,"v":1672},{"t":2012.45,"v":1840},{"t":2012.53,"v":1600},{"t":2012.60,"v":1744},{"t":2012.70,"v":1528},{"t":2012.82,"v":1360},{"t":2012.91,"v":1696},
{"t":2013.00,"v":1800},{"t":2013.07,"v":1579},{"t":2013.12,"v":1751},{"t":2013.20,"v":1457},{"t":2013.30,"v":1310},{"t":2013.37,"v":1628},{"t":2013.45,"v":1800},{"t":2013.53,"v":1555},{"t":2013.60,"v":1702},{"t":2013.70,"v":1481},{"t":2013.82,"v":1310},{"t":2013.91,"v":1653},
{"t":2014.00,"v":1740},{"t":2014.07,"v":1551},{"t":2014.12,"v":1698},{"t":2014.20,"v":1446},{"t":2014.30,"v":1320},{"t":2014.37,"v":1593},{"t":2014.45,"v":1740},{"t":2014.53,"v":1530},{"t":2014.60,"v":1656},{"t":2014.70,"v":1467},{"t":2014.82,"v":1320},{"t":2014.91,"v":1614},
{"t":2015.00,"v":1715},{"t":2015.07,"v":1524},{"t":2015.12,"v":1672},{"t":2015.20,"v":1417},{"t":2015.30,"v":1290},{"t":2015.37,"v":1566},{"t":2015.45,"v":1715},{"t":2015.53,"v":1502},{"t":2015.60,"v":1630},{"t":2015.70,"v":1439},{"t":2015.82,"v":1290},{"t":2015.91,"v":1587},
{"t":2016.00,"v":1660},{"t":2016.07,"v":1482},{"t":2016.12,"v":1620},{"t":2016.20,"v":1383},{"t":2016.30,"v":1265},{"t":2016.37,"v":1522},{"t":2016.45,"v":1660},{"t":2016.53,"v":1462},{"t":2016.60,"v":1581},{"t":2016.70,"v":1403},{"t":2016.82,"v":1265},{"t":2016.91,"v":1541},
{"t":2017.00,"v":1635},{"t":2017.07,"v":1459},{"t":2017.12,"v":1596},{"t":2017.20,"v":1362},{"t":2017.30,"v":1245},{"t":2017.37,"v":1498},{"t":2017.45,"v":1635},{"t":2017.53,"v":1440},{"t":2017.60,"v":1557},{"t":2017.70,"v":1381},{"t":2017.82,"v":1245},{"t":2017.91,"v":1518},
{"t":2018.00,"v":1615},{"t":2018.07,"v":1442},{"t":2018.12,"v":1576},{"t":2018.20,"v":1345},{"t":2018.30,"v":1230},{"t":2018.37,"v":1480},{"t":2018.45,"v":1615},{"t":2018.53,"v":1422},{"t":2018.60,"v":1538},{"t":2018.70,"v":1365},{"t":2018.82,"v":1230},{"t":2018.91,"v":1499},
{"t":2019.00,"v":1560},{"t":2019.07,"v":1405},{"t":2019.12,"v":1525},{"t":2019.20,"v":1318},{"t":2019.30,"v":1215},{"t":2019.37,"v":1439},{"t":2019.45,"v":1560},{"t":2019.53,"v":1387},{"t":2019.60,"v":1491},{"t":2019.70,"v":1336},{"t":2019.82,"v":1215},{"t":2019.95,"v":1530}],
"bp":[{"t":2007.85,"v":577},{"t":2008.42,"v":570}]
},
"hconcat":[
{"width":334,"height":335,
"title":{"text":"a)"},
"encoding":{
"x":{"field":"t","type":"quantitative","scale":{"domain":[1999.064,2020.916],"nice":false,"zero":false},"axis":{"values":[2000,2005,2010,2015,2020],"format":"d","title":"Date"}},
"y":{"field":"v","type":"quantitative","scale":{"domain":[-151,3161],"nice":false,"zero":false},"axis":{"values":[0,1000,2000,3000],"format":"d","title":"Specific conductance (uS/cm)"}}},
"layer":[
{"data":{"name":"ao"},"mark":{"type":"line","color":"#555555","strokeWidth":0.9,"strokeDash":[1,2]}},
{"data":{"name":"ad"},"mark":{"type":"line","color":"#111111","strokeWidth":0.9,"strokeDash":[2.5,2.5]}},
{"data":{"name":"as"},"mark":{"type":"line","color":"#111111","strokeWidth":0.9}},
{"data":{"name":"ap"},"mark":{"type":"point","filled":true,"color":"black","opacity":1,"size":20}}
]},
{"width":334,"height":335,
"title":{"text":"b)","dx":-5},
"encoding":{
"x":{"field":"t","type":"quantitative","scale":{"domain":[1999.064,2020.916],"nice":false,"zero":false},"axis":{"values":[2000,2005,2010,2015,2020],"format":"d","title":"Date"}},
"y":{"field":"v","type":"quantitative","scale":{"domain":[-151,3161],"nice":false,"zero":false},"axis":{"values":[0,1000,2000,3000],"format":"d","title":"Specific conductance (uS/cm)"}}},
"layer":[
{"data":{"name":"bo"},"mark":{"type":"line","color":"#555555","strokeWidth":0.9,"strokeDash":[1,2]}},
{"data":{"name":"bd"},"mark":{"type":"line","color":"#111111","strokeWidth":0.9,"strokeDash":[2.5,2.5]}},
{"data":{"name":"bs"},"mark":{"type":"line","color":"#111111","strokeWidth":0.9}},
{"data":{"name":"bp"},"mark":{"type":"point","filled":true,"color":"black","opacity":1,"size":20}}
]}
]
}
